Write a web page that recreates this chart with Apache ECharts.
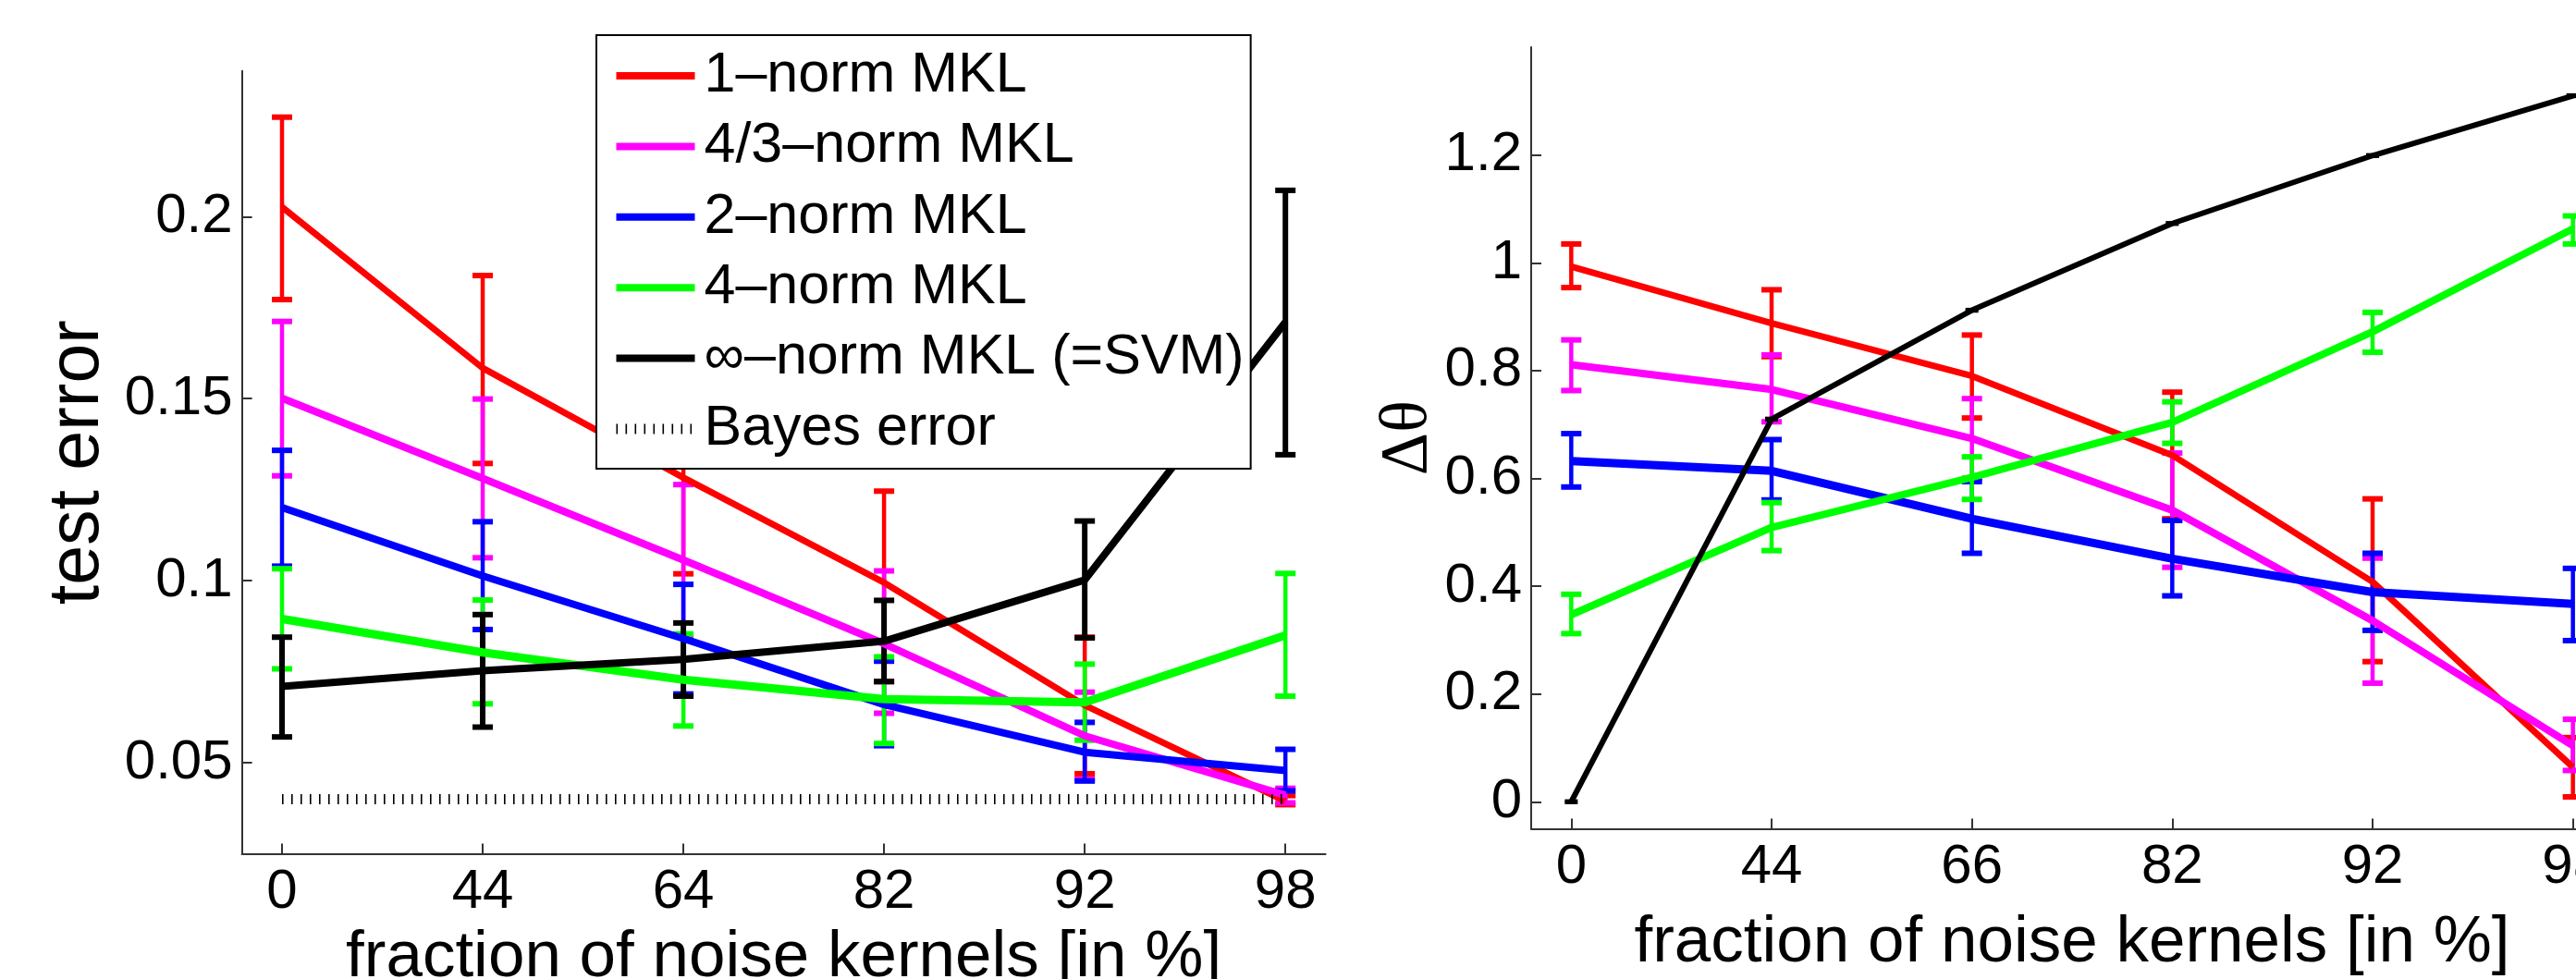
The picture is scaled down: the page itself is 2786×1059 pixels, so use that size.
<!DOCTYPE html>
<html>
<head>
    <meta charset="UTF-8" />
    <title>MKL vs fraction of noise kernels</title>
    <script src="https://cdn.jsdelivr.net/npm/echarts@6/dist/echarts.min.js"></script>
    <style>
        html, body { margin: 0; padding: 0; background: #fff; }
        #main {
            width: 2786px;
            height: 1059px;
            background-color: #fff;
        }
    </style>
</head>
<body>
<div id="main"></div>
<script>
var chartDom = document.getElementById('main');
var myChart = echarts.init(chartDom);

var FONT = '"Liberation Sans", Arial, Helvetica, sans-serif';

/* x categories, drawn equally spaced at index 0..5 */
var xLeft = ['0', '44', '64', '82', '92', '98'];
var xRight = ['0', '44', '66', '82', '92', '98'];

/* y tick labels */
var yTicksLeft = [0.05, 0.1, 0.15, 0.2];
var yTicksRight = [0, 0.2, 0.4, 0.6, 0.8, 1, 1.2];

var names = ['1\u2013norm MKL', '4/3\u2013norm MKL', '2\u2013norm MKL', '4\u2013norm MKL', '\u221e\u2013norm MKL (=SVM)'];
var colors = ['#ff0000', '#ff00ff', '#0000ff', '#00ff00', '#000000'];

/* left panel: test error, mean / lower / upper end of the error bar */
var te1 = [0.2026, 0.1584, 0.1283, 0.0995, 0.0658, 0.0395];
var te1Lo = [0.1772, 0.1322, 0.1019, 0.0723, 0.0470, 0.0385];
var te1Hi = [0.2273, 0.1838, 0.1547, 0.1246, 0.0845, 0.0410];

var te43 = [0.1501, 0.1281, 0.1057, 0.0827, 0.0574, 0.0411];
var te43Lo = [0.1288, 0.1063, 0.0850, 0.0636, 0.0455, 0.0390];
var te43Hi = [0.1712, 0.1499, 0.1264, 0.1027, 0.0694, 0.0430];

var te2 = [0.1201, 0.1013, 0.0841, 0.0660, 0.0529, 0.0479];
var te2Lo = [0.1040, 0.0866, 0.0689, 0.0547, 0.0450, 0.0423];
var te2Hi = [0.1358, 0.1162, 0.0990, 0.0779, 0.0611, 0.0537];

var te4 = [0.0895, 0.0803, 0.0728, 0.0675, 0.0666, 0.0850];
var te4Lo = [0.0758, 0.0662, 0.0601, 0.0553, 0.0562, 0.0683];
var te4Hi = [0.1033, 0.0947, 0.0854, 0.0791, 0.0771, 0.1020];

var teInf = [0.0710, 0.0753, 0.0784, 0.0834, 0.1002, 0.1710];
var teInfLo = [0.0571, 0.0598, 0.0683, 0.0723, 0.0843, 0.1346];
var teInfHi = [0.0845, 0.0907, 0.0884, 0.0946, 0.1164, 0.2072];

var bayesErr = [0.04, 0.04, 0.04, 0.04, 0.04, 0.04];

/* right panel: delta theta */
var dt1 = [0.993, 0.888, 0.790, 0.643, 0.408, 0.064];
var dt1Lo = [0.954, 0.826, 0.712, 0.525, 0.260, 0.009];
var dt1Hi = [1.035, 0.950, 0.866, 0.760, 0.562, 0.119];

var dt43 = [0.811, 0.765, 0.674, 0.541, 0.336, 0.104];
var dt43Lo = [0.763, 0.705, 0.600, 0.435, 0.220, 0.058];
var dt43Hi = [0.857, 0.829, 0.748, 0.647, 0.452, 0.153];

var dt2 = [0.632, 0.614, 0.525, 0.451, 0.389, 0.367];
var dt2Lo = [0.584, 0.560, 0.461, 0.382, 0.318, 0.299];
var dt2Hi = [0.683, 0.672, 0.594, 0.522, 0.461, 0.433];

var dt4 = [0.347, 0.509, 0.602, 0.704, 0.872, 1.063];
var dt4Lo = [0.312, 0.466, 0.561, 0.665, 0.834, 1.035];
var dt4Hi = [0.385, 0.555, 0.640, 0.742, 0.908, 1.087];

var dtInf = [0.000, 0.710, 0.912, 1.073, 1.199, 1.310];
var dtInfLo = [-0.002, 0.708, 0.910, 1.071, 1.197, 1.308];
var dtInfHi = [0.002, 0.712, 0.914, 1.075, 1.201, 1.312];

function pairs(vals) {
    return vals.map(function (v, i) { return [i, v]; });
}
function bars(lo, hi) {
    return lo.map(function (v, i) { return [i, v, hi[i]]; });
}

// vertical stem + two caps, matlab errorbar style
function errorBar(color, stemW, capW, half) {
    return function (params, api) {
        var x = api.value(0);
        var lo = api.coord([x, api.value(1)]);
        var hi = api.coord([x, api.value(2)]);
        return {
            type: 'group',
            children: [
                { type: 'line', shape: { x1: lo[0], y1: lo[1], x2: hi[0], y2: hi[1] }, style: { stroke: color, lineWidth: stemW } },
                { type: 'line', shape: { x1: lo[0] - half, y1: lo[1], x2: lo[0] + half, y2: lo[1] }, style: { stroke: color, lineWidth: capW } },
                { type: 'line', shape: { x1: hi[0] - half, y1: hi[1], x2: hi[0] + half, y2: hi[1] }, style: { stroke: color, lineWidth: capW } }
            ]
        };
    };
}

var series = [];
function addSeries(axis, k, mean, lo, hi, lineW, stemW, capW, half) {
    var c = colors[k];
    series.push({
        type: 'custom', name: names[k] + ' bars' + axis,
        xAxisIndex: axis, yAxisIndex: axis,
        renderItem: errorBar(c, stemW, capW, half),
        encode: { x: 0, y: [1, 2] },
        data: bars(lo, hi),
        silent: true
    });
    series.push({
        type: 'line', name: names[k],
        xAxisIndex: axis, yAxisIndex: axis,
        data: pairs(mean),
        symbol: 'none',
        lineStyle: { color: c, width: lineW },
        itemStyle: { color: c, borderWidth: 0 },
        silent: true
    });
}

addSeries(0, 0, te1, te1Lo, te1Hi, 7, 4.5, 6, 11);
addSeries(0, 1, te43, te43Lo, te43Hi, 8, 4.5, 6, 11);
addSeries(0, 2, te2, te2Lo, te2Hi, 8, 4.5, 6, 11);
addSeries(0, 3, te4, te4Lo, te4Hi, 9, 4.5, 6, 11);
addSeries(0, 4, teInf, teInfLo, teInfHi, 8, 6, 6, 11);
series.push({
    type: 'line', name: 'Bayes error',
    xAxisIndex: 0, yAxisIndex: 0,
    data: pairs(bayesErr),
    symbol: 'none',
    lineStyle: { color: '#000', width: 11, type: [1.6, 8.4], cap: 'butt' },
    itemStyle: { color: 'rgba(0,0,0,0)', borderWidth: 0 },
    silent: true
});

addSeries(1, 0, dt1, dt1Lo, dt1Hi, 7, 4.5, 6, 11);
addSeries(1, 1, dt43, dt43Lo, dt43Hi, 8, 4.5, 6, 11);
addSeries(1, 2, dt2, dt2Lo, dt2Hi, 9, 4.5, 6, 11);
addSeries(1, 3, dt4, dt4Lo, dt4Hi, 8, 4.5, 6, 11);
addSeries(1, 4, dtInf, dtInfLo, dtInfHi, 6, 3, 3, 7);

var axisCol = '#333';

function xAxisOpt(grid, cats, gap) {
    return {
        gridIndex: grid, type: 'value', min: -0.2, max: 5.2,
        axisLine: { show: true, onZero: false, lineStyle: { color: axisCol, width: 2 } },
        axisTick: { show: true, inside: true, length: 11, customValues: [0, 1, 2, 3, 4, 5], lineStyle: { color: axisCol, width: 2 } },
        axisLabel: {
            customValues: [0, 1, 2, 3, 4, 5],
            formatter: function (v) { return cats[Math.round(v)]; },
            fontSize: 60, fontFamily: FONT, color: '#000', margin: 12
        },
        splitLine: { show: false },
        name: 'fraction of noise kernels [in %]',
        nameLocation: 'middle', nameGap: gap,
        nameTextStyle: { fontSize: 71, fontFamily: FONT, color: '#000' }
    };
}

function yAxisOpt(grid, min, max, ticks, name, nameStyle, gap) {
    return {
        gridIndex: grid, type: 'value', min: min, max: max,
        axisLine: { show: true, onZero: false, lineStyle: { color: axisCol, width: 2 } },
        axisTick: { show: true, inside: true, length: 11, customValues: ticks, lineStyle: { color: axisCol, width: 2 } },
        axisLabel: {
            customValues: ticks,
            formatter: function (v) { return String(v); },
            fontSize: 60, fontFamily: FONT, color: '#000', margin: 10
        },
        splitLine: { show: false },
        name: name, nameLocation: 'middle', nameGap: gap,
        nameTextStyle: nameStyle
    };
}

var option = {
    backgroundColor: '#fff',
    animation: false,
    grid: [
        { left: 261.6, top: 76.7, width: 1172, height: 846.9, containLabel: false, outerBoundsMode: 'none' },
        { left: 1656, top: 51.1, width: 1170, height: 845.3, containLabel: false, outerBoundsMode: 'none' }
    ],
    xAxis: [xAxisOpt(0, xLeft, 70), xAxisOpt(1, xRight, 89)],
    yAxis: [
        yAxisOpt(0, 0.025, 0.24, yTicksLeft, 'test error', { fontSize: 77, fontFamily: FONT, color: '#000' }, 138),
        yAxisOpt(1, -0.05, 1.4, yTicksRight, '\u0394\u03b8', { fontSize: 72, fontFamily: '"Liberation Serif", "DejaVu Serif", serif', color: '#000' }, 95)
    ],
    legend: {
        orient: 'vertical',
        left: 645, top: 38,
        padding: [13, 7, 12, 16],
        itemGap: 14.4,
        itemWidth: 85,
        itemHeight: 2,
        backgroundColor: '#fff',
        borderColor: '#000',
        borderWidth: 2,
        selectedMode: false,
        textStyle: { fontSize: 61, lineHeight: 62, fontFamily: FONT, color: '#000', padding: [0, 0, 0, 5] },
        lineStyle: { width: 8 },
        data: names.concat([{ name: 'Bayes error', lineStyle: { width: 11 } }])
    },
    series: series
};

myChart.setOption(option);
</script>
</body>
</html>
